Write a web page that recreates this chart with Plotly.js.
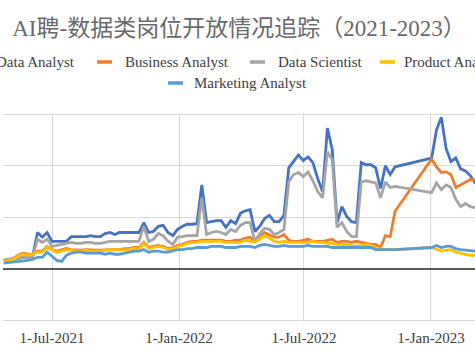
<!DOCTYPE html>
<html>
<head>
<meta charset="utf-8">
<script src="https://cdn.plot.ly/plotly-3.0.1.min.js"></script>
<style>html,body{margin:0;padding:0;background:#fff;}#chart{width:475px;height:356px;}</style>
</head>
<body>
<div id="chart"></div>
<script>
const dates = ['2021-04-22','2021-04-29','2021-05-06','2021-05-13','2021-05-20','2021-05-27','2021-06-03','2021-06-10','2021-06-17','2021-06-24',
'2021-07-01','2021-07-08','2021-07-15','2021-07-22','2021-07-29','2021-08-05','2021-08-12','2021-08-19','2021-08-26','2021-09-02',
'2021-09-09','2021-09-16','2021-09-23','2021-09-30','2021-10-07','2021-10-14','2021-10-21','2021-10-28','2021-11-04','2021-11-11',
'2021-11-18','2021-11-25','2021-12-02','2021-12-09','2021-12-16','2021-12-23','2021-12-30','2022-01-06','2022-01-13','2022-01-20',
'2022-01-27','2022-02-03','2022-02-10','2022-02-17','2022-02-24','2022-03-03','2022-03-10','2022-03-17','2022-03-24','2022-03-31',
'2022-04-07','2022-04-14','2022-04-21','2022-04-28','2022-05-05','2022-05-12','2022-05-19','2022-05-26','2022-06-02','2022-06-09',
'2022-06-16','2022-06-23','2022-06-30','2022-07-07','2022-07-14','2022-07-21','2022-07-28','2022-08-04','2022-08-11','2022-08-18',
'2022-08-25','2022-09-01','2022-09-08','2022-09-15','2022-09-22','2022-09-29','2022-10-06','2022-10-13','2022-10-20','2022-10-27',
'2022-11-03','2022-11-10',
'2023-01-02','2023-01-09','2023-01-16','2023-01-23','2023-01-30','2023-02-06','2023-02-13','2023-02-20','2023-02-27','2023-03-06','2023-03-13'];

const dataAnalyst = [17,19,19,21,23,23,25,71,62,71,
54,54,54,54,63,63,62,63,65,63,
63,69,71,67,71,71,71,71,71,90,
71,73,83,85,71,65,77,83,87,87,
88,163,90,92,94,94,81,94,88,108,
113,115,73,83,98,104,92,92,104,196,
208,221,210,217,206,175,150,273,231,90,
121,102,92,90,206,202,202,196,156,200,
183,198,
215,269,294,233,208,215,194,190,181,167,163];

const businessAnalyst = [17,19,21,27,31,29,29,35,35,44,
38,35,37,40,38,37,37,38,37,37,
37,38,38,38,38,40,40,42,42,52,
42,44,46,44,40,42,46,48,52,54,
54,56,56,56,56,56,54,54,56,56,
60,62,54,65,71,67,62,62,67,56,
54,54,56,58,54,54,54,56,58,52,
54,54,52,54,52,50,48,48,42,65,
63,112,
213,198,187,188,183,158,163,169,173,173,175];

const dataScientist = [17,19,19,21,23,23,25,58,52,58,
44,46,48,50,52,50,50,52,52,50,
50,52,54,54,54,54,54,54,54,83,
54,58,69,65,54,48,62,63,65,65,
65,138,67,71,73,71,67,77,73,85,
90,90,54,69,79,77,67,71,77,169,
183,187,179,188,171,150,138,227,212,81,
90,73,63,63,169,171,169,167,138,169,
158,160,
148,167,154,163,158,135,121,127,121,119,115];

const productAnalyst = [15,17,19,25,29,27,29,33,33,42,
37,33,35,38,37,35,35,37,35,35,
35,37,37,37,37,38,38,40,40,50,
40,42,44,42,38,40,44,46,50,52,
52,54,54,54,54,54,52,52,52,52,
56,54,52,58,65,60,54,52,54,52,
52,52,52,52,54,52,52,50,50,48,
48,46,46,44,46,48,46,42,40,38,
38,38,
42,38,35,37,38,33,31,29,27,27,25];

const marketingAnalyst = [12,13,13,15,15,17,19,23,23,33,
25,17,15,27,31,33,33,31,31,31,
31,29,31,29,29,31,33,35,35,38,
33,35,35,33,33,35,38,38,40,40,
42,42,42,44,44,44,42,42,42,44,
44,44,42,46,48,46,44,44,46,44,
44,44,44,46,44,44,44,44,42,42,
42,42,42,42,42,42,42,38,38,38,
38,38,
42,46,42,44,44,40,38,37,35,35,35];

const seriesNames = ['Data Analyst','Business Analyst','Data Scientist','Product Analyst','Marketing Analyst'];
const seriesValues = [dataAnalyst, businessAnalyst, dataScientist, productAnalyst, marketingAnalyst];
const seriesColors = ['#4472C4','#ED7D31','#A5A5A5','#FFC000','#5B9BD5'];

const tickDates = ['2021-07-01','2022-01-01','2022-07-01','2023-01-01'];
const tickLabels = ['1-Jul-2021','1-Jan-2022','1-Jul-2022','1-Jan-2023'];

const chartTitle = 'AI聘-数据类岗位开放情况追踪（2021-2023）';

const W = 475, H = 356;
const M = {l: 3, r: 0, t: 113, b: 34};
const PW = W - M.l - M.r, PH = H - M.t - M.b;
const px2x = p => (p - M.l) / PW;
const px2y = p => (H - M.b - p) / PH;

const traces = seriesNames.map((n, k) => ({
  type: 'scatter', mode: 'lines', name: n,
  x: dates, y: seriesValues[k],
  line: {color: seriesColors[k], width: 2.8},
  hoverinfo: 'skip'
}));

// manual legend (the original legend is cropped by the picture edge)
const legendItems = [
  {k: 0, sx: -33, tx: 76, anchor: 'right', py: 62},
  {k: 1, sx: 97, tx: 124, anchor: 'left', py: 62},
  {k: 2, sx: 250, tx: 277, anchor: 'left', py: 62},
  {k: 3, sx: 380, tx: 403, anchor: 'left', py: 62},
  {k: 4, sx: 168, tx: 193, anchor: 'left', py: 83}
];
const legendFont = {family: '"Liberation Serif", "Times New Roman", serif', size: 15, color: '#404040'};
const shapes = legendItems.map(it => ({
  type: 'line', xref: 'paper', yref: 'paper',
  x0: px2x(it.sx), x1: px2x(it.sx + 15), y0: px2y(it.py), y1: px2y(it.py),
  line: {color: seriesColors[it.k], width: 3.5}
}));
const annotations = legendItems.map(it => ({
  xref: 'paper', yref: 'paper', x: px2x(it.tx), y: px2y(it.py),
  xanchor: it.anchor, yanchor: 'middle', showarrow: false,
  text: seriesNames[it.k], font: legendFont, borderpad: 0
}));

const layout = {
  width: W, height: H,
  margin: M,
  paper_bgcolor: '#fff', plot_bgcolor: '#fff',
  showlegend: false,
  title: {
    text: chartTitle,
    font: {family: '"Liberation Serif", "Noto Sans CJK SC", serif', size: 23, color: '#6a6a6a'},
    x: 0.5, xref: 'paper', xanchor: 'center',
    y: 1 - 28 / H, yref: 'container', yanchor: 'middle'
  },
  xaxis: {
    type: 'date',
    range: ['2021-04-21', '2023-03-05 20:00'],
    tickmode: 'array', tickvals: tickDates, ticktext: tickLabels,
    showgrid: true, gridcolor: '#d9d9d9', gridwidth: 1,
    zeroline: false, showline: false, ticks: '',
    ticklabelstandoff: 5,
    tickfont: {family: '"Liberation Serif", "Times New Roman", serif', size: 15, color: '#404040'}
  },
  yaxis: {
    range: [-102, 302], tickmode: 'linear', tick0: 0, dtick: 100,
    showgrid: true, gridcolor: '#d9d9d9', gridwidth: 1,
    zeroline: true, zerolinecolor: '#595959', zerolinewidth: 1.5,
    showticklabels: false, ticks: '', showline: false
  },
  shapes: shapes,
  annotations: annotations
};

Plotly.newPlot('chart', traces, layout, {staticPlot: true, displayModeBar: false});
</script>
</body>
</html>
